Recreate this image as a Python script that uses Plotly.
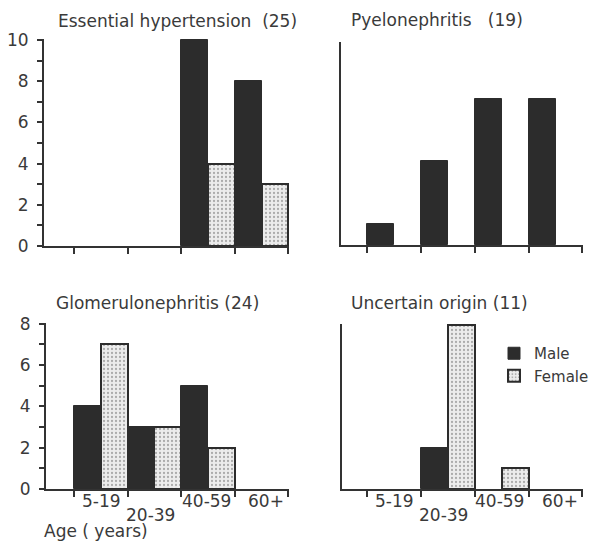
import plotly.graph_objects as go

# ---- data ----
age_groups = ["5-19", "20-39", "40-59", "60+"]
panel_titles = ["Essential hypertension  (25)", "Pyelonephritis   (19)",
                "Glomerulonephritis (24)", "Uncertain origin (11)"]
male_essential = [0, 0, 10, 8]
female_essential = [0, 0, 4, 3]
male_pyelo = [1, 4, 7, 7]
female_pyelo = [0, 0, 0, 0]
male_glomerulo = [4, 3, 5, 0]
female_glomerulo = [7, 3, 2, 0]
male_uncertain = [0, 2, 0, 0]
female_uncertain = [0, 8, 1, 0]
y_ticks_top = [0, 2, 4, 6, 8, 10]
y_ticks_bottom = [0, 2, 4, 6, 8]

W, H = 590, 547
FONT = "DejaVu Sans"
TXT = "#3a3a3a"
DARK = "#2c2c2c"
AX = "#333333"
FS = 17

def fx(x):
    return x / W

def fy(y):
    return 1 - y / H

def px(x0, x1):
    return [fx(x0), fx(x1)]

def py(ybot, ytop):
    return [fy(ybot), fy(ytop)]

def nz(vals):
    # zero counts draw no bar at all
    return [v if v else None for v in vals]

fig = go.Figure()

panels = [
    (male_essential, female_essential, "x", "y", False),
    (male_pyelo, female_pyelo, "x2", "y2", False),
    (male_glomerulo, female_glomerulo, "x3", "y3", False),
    (male_uncertain, female_uncertain, "x4", "y4", True),
]

for male, female, xa, ya, leg in panels:
    idx = list(range(len(age_groups)))
    fig.add_trace(go.Bar(
        x=[i + 0.25 for i in idx], y=nz(male), width=0.5,
        marker=dict(color=DARK, line=dict(color=DARK, width=1)),
        name="Male", showlegend=leg, xaxis=xa, yaxis=ya, legendgroup="m"))
    fig.add_trace(go.Bar(
        x=[i + 0.75 for i in idx], y=nz(female), width=0.5,
        marker=dict(color="#e6e6e6", line=dict(color=DARK, width=2),
                    pattern=dict(shape=".", fgcolor="#6a6a6a", bgcolor="#ececec",
                                 size=4, solidity=0.25)),
        name="Female", showlegend=leg, xaxis=xa, yaxis=ya, legendgroup="f"))

xcommon = dict(showline=True, linecolor=AX, linewidth=2, showgrid=False,
               zeroline=False, tickvals=[0, 1, 2, 3, 4], ticks="outside",
               ticklen=6, tickwidth=2, tickcolor=AX, showticklabels=False)
ycommon_lab = dict(showline=True, linecolor=AX, linewidth=2, showgrid=False,
                   zeroline=False, ticks="outside", ticklen=5, tickwidth=2,
                   tickcolor=AX, tickfont=dict(family=FONT, size=FS, color=TXT),
                   ticklabelstandoff=5,
                   minor=dict(dtick=1, ticks="outside", ticklen=5, tickwidth=2,
                              tickcolor=AX, showgrid=False))
ycommon_plain = dict(showline=True, linecolor=AX, linewidth=2, showgrid=False,
                     zeroline=False, ticks="", showticklabels=False)

fig.update_layout(
    xaxis=dict(domain=px(44, 289), range=[-0.56, 4.01], anchor="y", **xcommon),
    yaxis=dict(domain=py(246, 39), range=[0, 10.05], anchor="x",
               tickvals=y_ticks_top, **ycommon_lab),
    xaxis2=dict(domain=px(341, 583), range=[-0.48, 4.01], anchor="y2", **xcommon),
    yaxis2=dict(domain=py(245, 42), range=[0, 9.7], anchor="x2", **ycommon_plain),
    xaxis3=dict(domain=px(46, 289), range=[-0.52, 4.01], anchor="y3", **xcommon),
    yaxis3=dict(domain=py(489, 323), range=[0, 8.04], anchor="x3",
                tickvals=y_ticks_bottom, **ycommon_lab),
    xaxis4=dict(domain=px(342, 583), range=[-0.46, 4.01], anchor="y4", **xcommon),
    yaxis4=dict(domain=py(489, 324), range=[0, 8.04], anchor="x4", **ycommon_plain),
    barmode="overlay",
    bargap=0,
    width=W, height=H,
    margin=dict(l=0, r=0, t=0, b=0, pad=0, autoexpand=False),
    paper_bgcolor="white", plot_bgcolor="white",
    font=dict(family=FONT, color=TXT, size=FS),
    legend=dict(x=fx(494), y=fy(337), xanchor="left", yanchor="top",
                font=dict(family=FONT, size=15, color=TXT),
                bgcolor="rgba(0,0,0,0)", tracegroupgap=0,
                itemwidth=30),
)

# panel titles
title_pos = [(56, 21), (349, 20), (54, 303), (349, 303)]
for t, (x0, yc) in zip(panel_titles, title_pos):
    fig.add_annotation(text=t, xref="paper", yref="paper", x=fx(x0),
                       y=fy(yc), xanchor="left", yanchor="middle",
                       showarrow=False, font=dict(family=FONT, size=FS, color=TXT))

# age labels (bottom panels), 20-39 staggered lower
label_y = [501, 515, 501, 501]
label_shift = [1, -4, -2, 4]
for xa in ["x3", "x4"]:
    for i, lab in enumerate(age_groups):
        fig.add_annotation(text=lab, xref=xa, yref="paper", x=i + 0.5,
                           y=fy(label_y[i]), xanchor="center", yanchor="middle",
                           xshift=label_shift[i], showarrow=False,
                           font=dict(family=FONT, size=FS, color=TXT))

fig.add_annotation(text="Age ( years)", xref="paper", yref="paper", x=fx(42),
                   y=fy(531), xanchor="left", yanchor="middle", showarrow=False,
                   font=dict(family=FONT, size=FS, color=TXT))

fig.write_html("out.html", config={"displayModeBar": False},
               post_script="document.body.style.margin='0';"
                           "document.documentElement.style.overflow='hidden';")
